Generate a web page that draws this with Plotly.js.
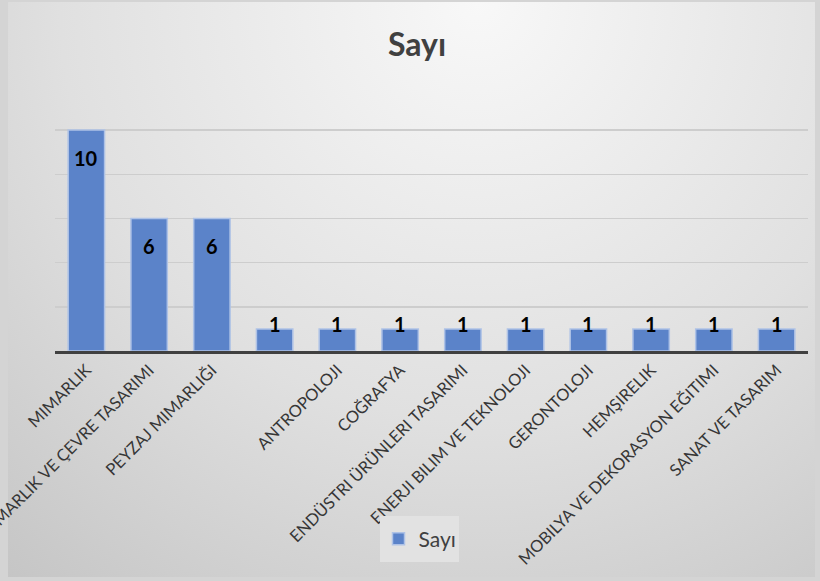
<!DOCTYPE html>
<html>
<head>
<meta charset="utf-8">
<script src="https://cdn.plot.ly/plotly-3.0.1.min.js"></script>
<style>
html,body{margin:0;padding:0;background:#d4d4d4;}
#chart{width:820px;height:581px;}
</style>
</head>
<body>
<div id="chart"></div>
<script>
var categories = [
  'MIMARLIK',
  'IÇ MIMARLIK VE ÇEVRE TASARIMI',
  'PEYZAJ MIMARLIĞI',
  ' ',
  'ANTROPOLOJI',
  'COĞRAFYA',
  'ENDÜSTRI ÜRÜNLERI TASARIMI',
  'ENERJI BILIM VE TEKNOLOJI',
  'GERONTOLOJI',
  'HEMŞIRELIK',
  'MOBILYA VE DEKORASYON EĞITIMI',
  'SANAT VE TASARIM'
];
var sayi = [10, 6, 6, 1, 1, 1, 1, 1, 1, 1, 1, 1];
var seriesName = 'Sayı';
var chartTitle = 'Sayı';

var W = 820, H = 581;
var mL = 55, mR = 12, mT = 129, mB = 230;
var pw = W - mL - mR, ph = H - mT - mB;
function px2x(p) { return (p - mL) / pw; }
function px2y(p) { return (H - mB - p) / ph; }

// background gradient (frame from x=8..815, y=2..577)
var fx0 = 8, fx1 = 815, fy0 = 2, fy1 = 577;
var svg = '<svg xmlns="http://www.w3.org/2000/svg" width="807" height="575" viewBox="0 0 807 575" preserveAspectRatio="none">' +
  '<defs><radialGradient id="g" gradientUnits="userSpaceOnUse" cx="470" cy="0" r="760">' +
  '<stop offset="0" stop-color="#f8f8f8"/><stop offset="0.55" stop-color="#e0e0e0"/><stop offset="1" stop-color="#c4c4c4"/></radialGradient></defs>' +
  '<rect x="0" y="0" width="807" height="575" fill="url(#g)"/></svg>';
var bgSrc = 'data:image/svg+xml;base64,' + btoa(svg);

var trace = {
  type: 'bar',
  x: categories,
  y: sayi,
  name: seriesName,
  marker: {color: '#5b83c9', line: {color: '#aec2e6', width: 1.5}},
  hoverinfo: 'none'
};

var labelFont = {family: 'Lato, "Noto Sans", sans-serif', size: 20, color: '#000000', weight: 'bold'};
var annotations = categories.map(function (c, i) {
  return {
    x: c, y: sayi[i], xref: 'x', yref: 'y',
    text: '<b>' + sayi[i] + '</b>',
    showarrow: false, yanchor: 'middle', xanchor: 'center',
    yshift: sayi[i] > 1 ? -28 : 5,
    font: labelFont
  };
});

var layout = {
  width: W, height: H,
  margin: {l: mL, r: mR, t: mT, b: mB, pad: 0},
  paper_bgcolor: '#d4d4d4',
  plot_bgcolor: 'rgba(0,0,0,0)',
  font: {family: 'Lato, "Noto Sans", sans-serif', color: '#404040'},
  title: {
    text: '<b>' + chartTitle + '</b>',
    font: {family: 'Lato, "Noto Sans", sans-serif', size: 32, color: '#404040'},
    x: 417 / W, xref: 'container', xanchor: 'center',
    y: 1 - 45 / H, yref: 'container', yanchor: 'middle'
  },
  bargap: 0.42,
  xaxis: {
    type: 'category',
    tickangle: -45,
    tickfont: {size: 16.5, color: '#363636'},
    showline: true, linecolor: '#404040', linewidth: 3,
    ticks: '', showgrid: false, automargin: false
  },
  yaxis: {
    range: [0, 10.05],
    dtick: 2, tick0: 0,
    showticklabels: false,
    showgrid: true, gridcolor: '#cdcdcd', gridwidth: 1.5,
    zeroline: false, showline: false, ticks: '', automargin: false
  },
  showlegend: true,
  legend: {
    orientation: 'h',
    x: 420 / W, xref: 'container', xanchor: 'center',
    y: 1 - 539 / H, yref: 'container', yanchor: 'middle',
    bgcolor: 'rgba(0,0,0,0)', borderwidth: 0,
    font: {size: 21, color: '#404040'}
  },
  shapes: [{
    type: 'rect', xref: 'paper', yref: 'paper', layer: 'above',
    x0: px2x(380), x1: px2x(459), y0: px2y(562), y1: px2y(516),
    fillcolor: '#e2e2e2', line: {width: 0}
  }],
  annotations: annotations,
  images: [{
    source: bgSrc, xref: 'paper', yref: 'paper',
    x: px2x(fx0), sizex: (fx1 - fx0) / pw,
    y: px2y(fy0), sizey: (fy1 - fy0) / ph,
    xanchor: 'left', yanchor: 'top', sizing: 'stretch', layer: 'below'
  }]
};

Plotly.newPlot('chart', [trace], layout, {staticPlot: true, displayModeBar: false});
</script>
</body>
</html>
